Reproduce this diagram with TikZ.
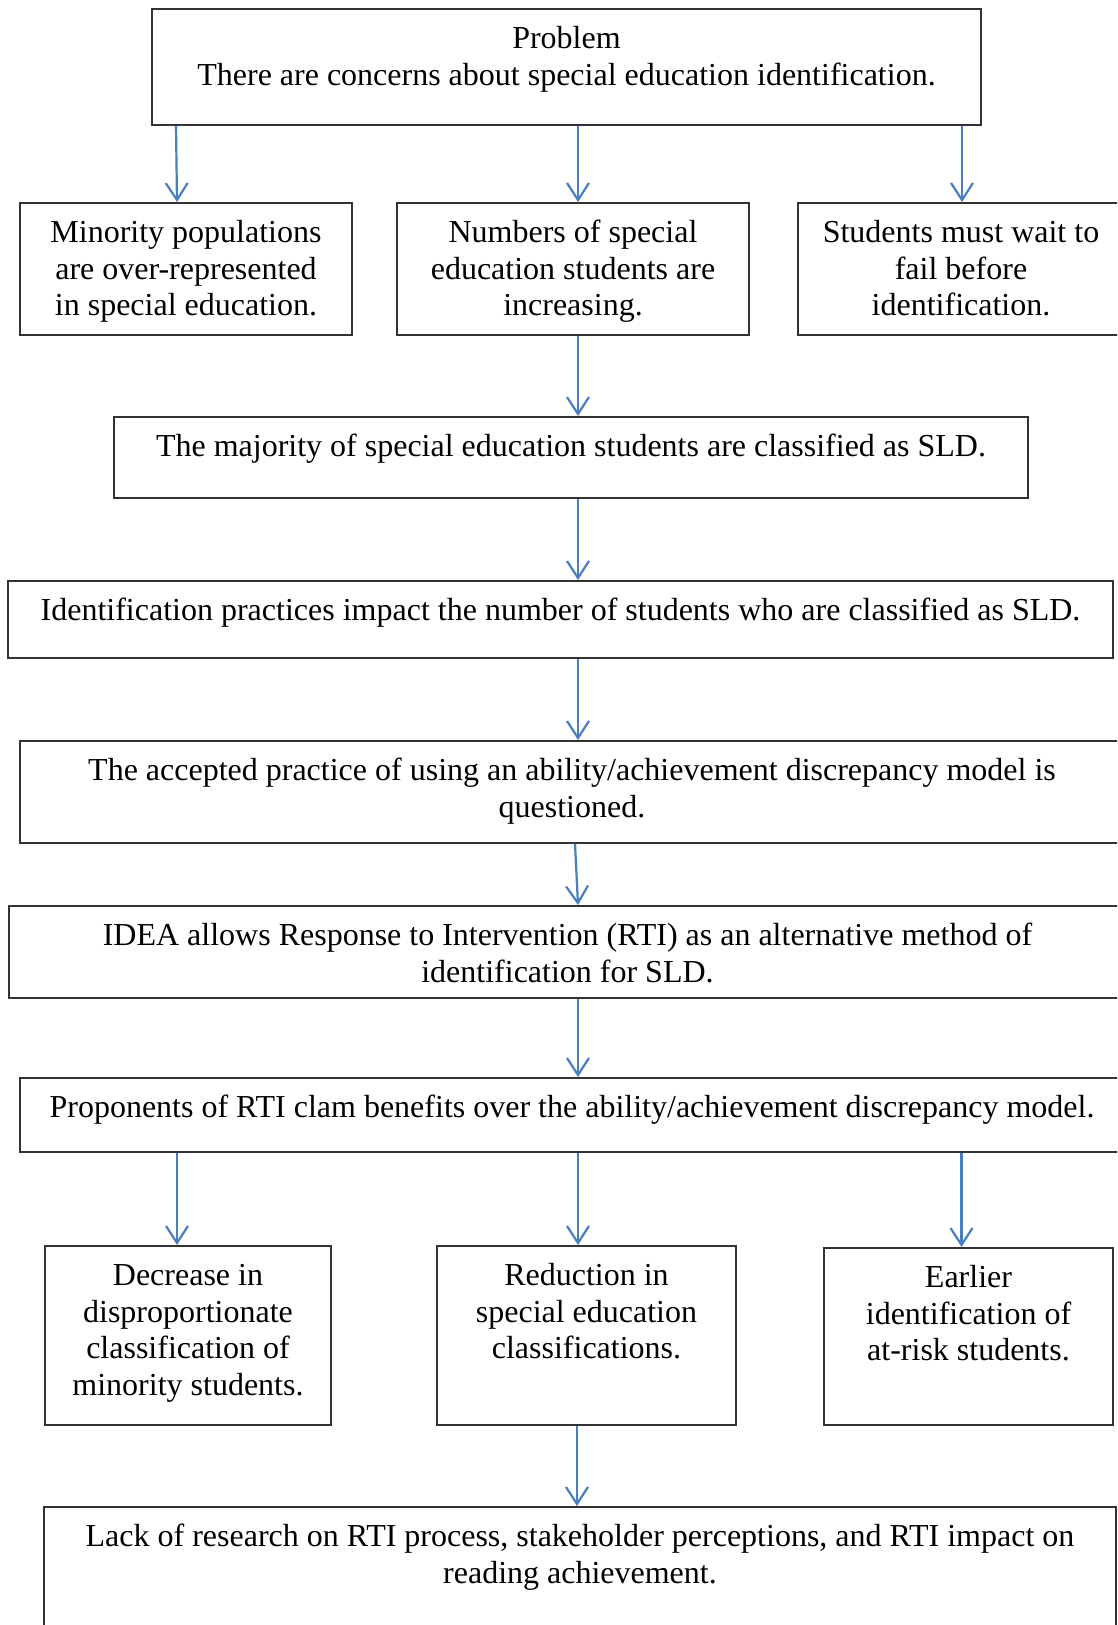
\documentclass[tikz,border=0pt]{standalone}
\usepackage{fontspec}
\setmainfont{Liberation Serif}
\usepackage{xcolor}
\usepackage{tikz}
\usetikzlibrary{arrows.meta}

\definecolor{arrowblue}{RGB}{74,126,192}

\begin{document}
\begin{tikzpicture}[
    x=1pt, y=-1pt,
    box/.style={rectangle, draw=black!80, line width=1.6pt, anchor=north, inner xsep=6pt, inner ysep=0pt, align=flush center, text height=40pt, font=\fontsize{32}{36.5}\selectfont, execute at begin node={\spaceskip=0.25em\relax}},
    arrow/.style={-{Straight Barb[length=17pt, width=22pt]}, draw=arrowblue, line width=2.2pt}
]

\clip (0,0) rectangle (1117,1625);
\fill[white] (0,0) rectangle (1117,1625);

% Problem
\node[box, text width=817pt, text depth=76pt] (prob) at (566.5,8) {
    Problem\\There are concerns about special education identification.
};

% Row 1
\node[box, text width=320pt, text depth=92pt] (minor) at (186,202) {
    Minority populations\\are over-represented\\in special education.
};
\node[box, text width=340pt, text depth=92pt] (numb) at (573,202) {
    Numbers of special\\education students are\\increasing.
};
\node[box, text width=314pt, text depth=92pt] (wait) at (961,202) {
    Students must wait to\\fail before\\identification.
};

% Chain
\node[box, text width=902pt, text depth=41pt] (major) at (571,416) {
    The majority of special education students are classified as SLD.
};
\node[box, text width=1093pt, text depth=37pt] (ident) at (560.5,580) {
    Identification practices impact the number of students who are classified as SLD.
};
\node[box, text width=1092pt, text depth=62pt] (quest) at (572,740) {
    The accepted practice of using an ability/achievement discrepancy model is\\questioned.
};
\node[box, text width=1105pt, text depth=52pt] (idea) at (567.5,905) {
    IDEA allows Response to Intervention (RTI) as an alternative method of\\identification for SLD.
};
\node[box, text width=1092pt, text depth=34pt] (prop) at (572,1077) {
    Proponents of RTI clam benefits over the ability/achievement discrepancy model.
};

% Row 2
\node[box, text width=274pt, text depth=139pt] (dec) at (188,1245) {
    Decrease in\\disproportionate\\classification of\\minority students.
};
\node[box, text width=287pt, text depth=139pt] (red) at (586.5,1245) {
    Reduction in\\special education\\classifications.
};
\node[box, text width=277pt, text depth=137pt] (earl) at (968.5,1247) {
    Earlier\\identification of\\at-risk students.
};

% Gap
\node[box, text width=1060pt, text depth=134pt] (lack) at (580,1506) {
    Lack of research on RTI process, stakeholder perceptions, and RTI impact on\\reading achievement.
};

% Arrows
\draw[arrow] ([xshift=-390.5pt]prob.south) -- ([xshift=-9pt]minor.north);
\draw[arrow] ([xshift=11.5pt]prob.south) -- ([xshift=5pt]numb.north);
\draw[arrow] ([xshift=395.5pt]prob.south) -- ([xshift=1pt]wait.north);
\draw[arrow] ([xshift=5pt]numb.south) -- ([xshift=7pt]major.north);
\draw[arrow] ([xshift=7pt]major.south) -- ([xshift=17.5pt]ident.north);
\draw[arrow] ([xshift=17.5pt]ident.south) -- ([xshift=6pt]quest.north);
\draw[arrow] ([xshift=3pt]quest.south) -- ([xshift=10.5pt]idea.north);
\draw[arrow] ([xshift=10.5pt]idea.south) -- ([xshift=6pt]prop.north);
\draw[arrow] ([xshift=-395pt]prop.south) -- ([xshift=-11pt]dec.north);
\draw[arrow] ([xshift=6pt]prop.south) -- ([xshift=-8.5pt]red.north);
\draw[arrow] ([xshift=389.5pt]prop.south) -- ([xshift=-7pt]earl.north);
\draw[arrow] ([xshift=-9.5pt]red.south) -- ([xshift=-3pt]lack.north);

\end{tikzpicture}
\end{document}
